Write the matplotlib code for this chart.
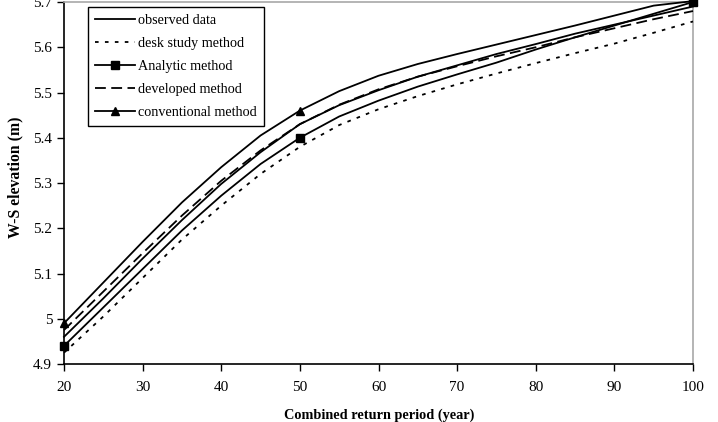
import matplotlib
matplotlib.use("Agg")
import matplotlib.pyplot as plt
from matplotlib.ticker import FuncFormatter

plt.rcParams['font.family'] = ['Liberation Serif', 'DejaVu Serif']

years = [20, 25, 30, 35, 40, 45, 50, 55, 60, 65, 70, 75, 80, 85, 90, 95, 100]

observed = [4.960, 5.045, 5.133, 5.218, 5.298, 5.368, 5.430, 5.472, 5.505,
            5.535, 5.560, 5.585, 5.607, 5.630, 5.650, 5.670, 5.690]
desk_study = [4.925, 5.005, 5.090, 5.175, 5.250, 5.320, 5.380, 5.428, 5.463,
              5.492, 5.518, 5.542, 5.565, 5.587, 5.608, 5.632, 5.657]
analytic = [4.940, 5.025, 5.110, 5.195, 5.272, 5.342, 5.400, 5.447, 5.482,
            5.513, 5.540, 5.566, 5.595, 5.622, 5.648, 5.674, 5.700]
developed = [4.975, 5.060, 5.145, 5.228, 5.305, 5.372, 5.430, 5.473, 5.507,
             5.535, 5.558, 5.580, 5.600, 5.622, 5.642, 5.662, 5.680]
conventional = [4.990, 5.080, 5.170, 5.257, 5.335, 5.405, 5.460, 5.503, 5.537,
                5.563, 5.585, 5.606, 5.627, 5.648, 5.670, 5.692, 5.702]

marker_years = [20, 50, 100]

x_ticks = [20, 30, 40, 50, 60, 70, 80, 90, 100]
y_ticks = [4.9, 5.0, 5.1, 5.2, 5.3, 5.4, 5.5, 5.6, 5.7]

fig = plt.figure(figsize=(7.18, 4.22), dpi=100)
ax = fig.add_axes([64 / 718, 58 / 422, 629 / 718, 362 / 422])

mk = [years.index(v) for v in marker_years]
lw = 1.3
ax.plot(years, observed, color='black', lw=lw, label='observed data', clip_on=False, zorder=3)
ax.plot(years, desk_study, color='black', lw=lw, dashes=(2, 3.5), label='desk study method',
        clip_on=False, zorder=3)
ax.plot(years, analytic, color='black', lw=lw, marker='s', markersize=6, markevery=mk,
        label='Analytic method', clip_on=False, zorder=5)
ax.plot(years, developed, color='black', lw=lw, dashes=(6, 3), label='developed method',
        clip_on=False, zorder=3)
ax.plot(years, conventional, color='black', lw=lw, marker='^', markersize=6, markevery=mk,
        label='conventional method', clip_on=False, zorder=4)

ax.set_xlim(20, 100)
ax.set_ylim(4.9, 5.7)
ax.set_xticks(x_ticks)
ax.set_yticks(y_ticks)
ax.yaxis.set_major_formatter(FuncFormatter(lambda v, p: '%g' % round(v, 2)))
ax.tick_params(axis='both', direction='out', length=5, width=1, labelsize=11, color='black')
ax.tick_params(axis='x', pad=7.5)
ax.tick_params(axis='y', pad=3.5)

for s in ['left', 'bottom']:
    ax.spines[s].set_color('black')
    ax.spines[s].set_linewidth(1.2)
for s in ['top', 'right']:
    ax.spines[s].set_color('#a8a8a8')
    ax.spines[s].set_linewidth(1.2)

ax.set_xlabel('Combined return period (year)', fontsize=10.3, fontweight='bold')
ax.set_ylabel('W-S elevation (m)', fontsize=11.3, fontweight='bold')
ax.xaxis.set_label_coords(0.5008, -0.122)
ax.yaxis.set_label_coords(-0.064, 0.517)

leg = ax.legend(loc='upper left', bbox_to_anchor=(24 / 629, 357 / 362), borderaxespad=0,
                fontsize=10.2, handlelength=2.8, handletextpad=0.25, labelspacing=0.7,
                fancybox=False, framealpha=1, edgecolor='black', borderpad=0.5)
leg.get_frame().set_linewidth(1.0)

fig.savefig('out.png', dpi=100)
